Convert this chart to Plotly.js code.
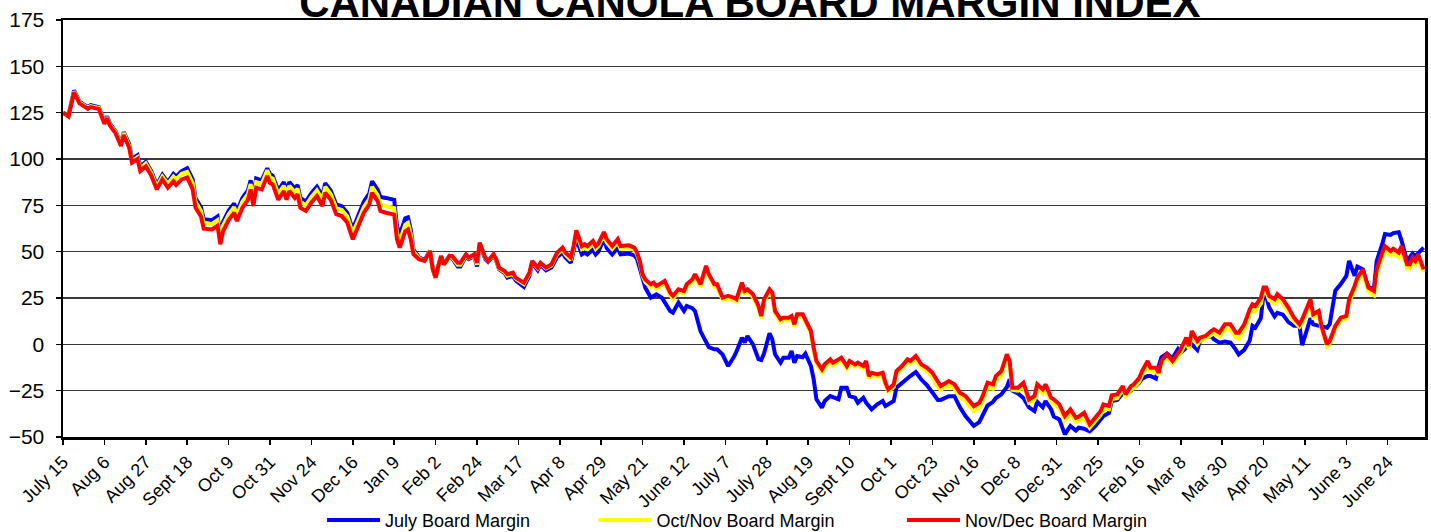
<!DOCTYPE html>
<html>
<head>
<meta charset="utf-8">
<script src="https://cdn.plot.ly/plotly-3.0.1.min.js"></script>
<style>
  html, body { margin: 0; padding: 0; background: #ffffff; }
  #chart { width: 1431px; height: 532px; }
</style>
</head>
<body>
<div id="chart"></div>
<script>
// Trading-session index (0 = July 15), one label every 15 sessions
const sessions = [
  0,2,4,6,9,10,13,15,16,17,
  19,21,22,24,25,27,28,30,32,34,
  36,38,40,41,43,45,47,48,50,51,
  54,56,57,58,60,62,63,65,67,68,
  69,70,72,74,75,76,78,80,81,82,
  84,85,86,88,90,92,94,95,97,99,
  101,103,104,105,107,109,111,112,114,115,
  117,119,120,121,122,124,125,126,127,129,
  131,132,133,134,135,136,137,138,140,141,
  143,144,146,147,149,150,151,153,154,156,
  157,158,160,161,163,164,166,167,169,170,
  172,173,175,177,179,181,182,184,185,186,
  188,189,190,192,193,194,196,197,199,201,
  202,205,207,208,209,210,211,213,214,215,
  217,218,220,221,223,225,226,228,229,231,
  233,234,236,237,239,241,243,244,246,247,
  248,250,252,253,254,256,257,258,260,261,
  263,264,265,266,268,269,271,272,273,275,
  276,278,279,281,282,284,285,287,288,290,
  291,292,293,295,297,298,299,301,302,304,
  306,307,309,311,313,315,317,318,321,323,
  325,327,330,332,333,335,337,338,340,341,
  342,343,344,346,348,350,352,353,355,356,
  358,359,361,363,365,367,368,370,372,374,
  376,377,379,380,382,384,385,387,388,390,
  391,393,394,396,397,398,400,402,404,405,
  407,408,409,411,412,414,416,417,419,421,
  423,425,426,428,430,431,432,434,435,436,
  437,439,440,442,444,446,448,449,452,453,
  455,456,458,459,461,463,465,466,468,469,
  471,472,473,475,476,478,479,481,482,484,
  485,487,488,489,490,491,493
];

const julyMargin = [
  125,123.5,137,131,128,129,128,120,123,119,
  115,108.5,114.5,108,100,102,96,98.5,93.5,86,
  91.5,87.5,92,90.5,93.5,95,89,79,74,67.5,
  67,69,59,66,72,76,71.5,79,83,88.5,
  80,89.5,88.5,95,92,91,83,87.5,83,87.5,
  84,86,79,77,81.5,85,80,87,83,75.5,
  74.5,71,66.5,62,69.5,77,81.5,88,83.5,79.5,
  79,78,78,64,59,68,68.5,62,51,47,
  45.5,48,50.5,40.5,36,42.3,47.6,43.2,47.6,46.5,
  42,42,47.5,46,47.5,42,54,46,44.5,48,
  45,40.5,38.5,36,37,34.5,32,31,37,44,
  40,43,40,41.5,47,49.5,47,44,50.5,57,
  48.5,49.5,48.5,51,48.5,50,57,52,48.5,52,
  48.5,49,48,46,41,36,30.6,25.2,26,27,
  25.2,22.5,18,17.1,22.5,18,20.7,19.5,18,7,
  1.8,-1.5,-2.7,-2.7,-5.5,-11.7,-7,-4,3.6,1,
  4.5,0,-8,-8.5,-5,6,2.7,-5.4,-9.9,-7.2,
  -7.2,-3.6,-9.9,-6.3,-7,-5,-11.7,-18.9,-29.7,-34.2,
  -30.6,-27.9,-28.5,-29.7,-23.4,-23.4,-27.9,-28.8,-31.5,-28.8,
  -31.5,-33.3,-35.1,-32.4,-30.6,-33.3,-32.4,-30.6,-23.4,-20.7,
  -18,-17.1,-15,-19,-22,-26,-30,-30,-28,-28,
  -34,-38.7,-44,-42,-39,-33,-31,-29,-27,-25,
  -23,-19,-25,-26.5,-29,-34,-36,-31,-34,-30.6,
  -35,-39,-40.5,-48.6,-44,-46.5,-45,-45.5,-47,-44.1,
  -41,-38.7,-37,-30.6,-30,-26.5,-26.5,-25,-23.5,-20.7,
  -18.5,-17.1,-17.1,-18.5,-12,-7,-5,-7.5,-2.5,-4.5,
  -1.8,-1,0,-3,2,3.6,4.5,2.7,0.9,1.5,
  1,-3,-5.5,-3,2,10,9,14,27,26,
  20,15,17,16,12,10,10,-0.5,14,10.8,
  10,9.5,9,11,29,32.5,36.9,45,37,42,
  40.5,35,31,29.7,45,54,59.5,59,60,60.5,
  56,45,47,49,47.6,49,52.2
];

const octNovMargin = [
  125,123,136.5,130.5,127.5,128.5,127.5,119.5,122.5,118.5,
  114.5,108,114,107,99,101,95,97.5,92.5,85,
  90.5,86.5,90.5,89,92,93,87,77,72,65.5,
  65,67,57,64,70,74,69.5,77,81,86.5,
  78,87.5,86.5,94,90,89.5,81,85.5,81,85.5,
  82,84,77,75,79.5,83,78,85,81,73.5,
  72.5,69,64.5,60,67,74,78.5,85,80.5,75.5,
  74.5,73.5,73.5,60,55.5,64.5,65.5,59.5,50,46.5,
  45,47.8,50.3,40.5,36,42.3,47.6,43.2,47.6,47,
  43,43,48,46.5,48,43,54.5,46.5,45,48.3,
  45.5,41,39,37,38,35.5,33.5,32.5,38,44.5,
  41,43.5,41,42.5,48.5,51,48.5,45.5,52,60,
  51.5,52.5,51.5,54.5,51.5,53,59,55,51.5,55,
  51.5,52,51,48.5,44,37,33.5,31,32,30,
  32,33,26.5,24.5,28.5,27.5,31,33.5,36.5,31,
  41,36.5,31,31,24,24.5,24,23,32,27.5,
  28.5,25.5,19.5,14,23,28.5,26.5,16.5,12,13,
  13,14,9.5,15,15,12,6,-3,-10.5,-15,
  -12.5,-9.5,-11.5,-9.5,-8.5,-13,-10.5,-12,-11.5,-13,
  -10.5,-18.5,-17,-17.5,-17,-22,-25.5,-23,-16,-13,
  -9.5,-10.5,-8,-12.5,-14.5,-17.5,-23,-24.5,-22,-24,
  -28.5,-30.5,-36,-34,-31.5,-23.5,-24,-19.5,-17,-11.5,
  -8,-10.5,-24.5,-25,-23,-31.5,-30,-24,-26.5,-24,
  -31,-32,-34.5,-41,-37.5,-42,-41.5,-39.5,-45,-41.5,
  -38,-34.5,-35,-29.5,-29,-24.5,-28,-24.5,-23.5,-20,
  -16.5,-12,-14.5,-15,-16.5,-10,-7,-10.5,-6,-4.5,
  1.5,-2.5,5,0,2,3,5,6,4,8,
  8,3.5,3,8,16,19,18,22,28.5,28.5,
  24,22,24.5,22,17.5,12.5,9.5,11.5,22,14.5,
  16,8.5,-1,0.5,8.5,13,14,22.5,29.5,34,
  38.5,33,28.5,26.5,38,47,50.5,48,49,47,
  50.5,41,41,44.5,43,46,39
];

const novDecMargin = [
  125,123,136,130,127,128,127,119,122,118,
  114,107,113,106,98,100,93.5,96,91,83.6,
  89,84.5,88,86,89,90,83.6,73.8,69,62.4,
  62,64,54,61,67,71,66.5,73.7,78,83.6,
  74.6,84.5,83.6,90.8,87,86.3,78,82.7,78,82.7,
  79,81,73.7,72,76.5,80,74.6,81.8,78,70.2,
  69.2,65.7,61.1,56.7,63.9,71,75.5,81.8,77.3,72,
  71,70,70,56.7,52.2,61,62,56.7,48.6,45.9,
  45,47.6,50.3,40.5,36,42.3,47.6,43.2,47.6,47.6,
  44,44,48.6,46.8,48.6,44,54.9,46.8,45,48.6,
  45.9,41.4,39.6,37.8,38.7,36,34.2,33.3,38.7,45,
  41.4,44,41.4,43.2,49.5,52.2,49.5,46.8,53,61.5,
  53,54,53,55.8,53,54.5,60.6,56.7,53,56.7,
  53,53.4,52.2,49.5,45,37.8,35,32.4,33.3,31.5,
  33.3,34.2,27.9,26.1,29.7,28.8,32.4,35,37.8,32.4,
  42.3,37.8,32.4,32.4,25.2,26.1,25.2,24.3,33.3,28.8,
  29.7,27,20.7,15.3,24.3,29.7,27.9,18,13.5,14.4,
  14.4,15.3,10.8,16.2,16.2,13.5,7.2,-1.8,-9,-13.5,
  -10.8,-8.1,-9.9,-8.1,-7.2,-11.7,-9,-10.8,-9.9,-11.7,
  -9,-17.1,-15.3,-16.2,-15.3,-20.7,-24.3,-21.6,-14.4,-11.7,
  -8.1,-9,-6.3,-10.8,-12.6,-15.3,-20.7,-22.5,-19.8,-21.6,
  -26.1,-27.9,-33.3,-31.5,-28.8,-20.7,-21.6,-17.1,-14.4,-9,
  -5.4,-9,-23.4,-23.4,-20.7,-29.7,-27.9,-21.6,-24.3,-21.6,
  -28.8,-29.7,-32.4,-38.7,-35.1,-39.6,-39,-36.9,-43.2,-39.6,
  -36,-32.4,-33.3,-27.5,-27,-22.5,-27,-22.5,-21.6,-18,
  -14.4,-9,-12.6,-12.6,-15.3,-9,-5.4,-9,-4.5,-2.7,
  3.6,-0.9,7.2,1.8,3.6,4.5,7.2,8.1,6.3,10.8,
  10.8,6.3,6.3,10.8,18.9,21.6,20.7,25,30.6,30.6,
  26.1,24.3,27,24.3,19.8,14.4,10.8,13.5,24.3,16.2,
  18,9.9,0,1.8,9.9,14.4,15.3,24.3,31.5,36,
  40.5,35,30.6,28.8,40.5,49.5,53,50.3,51.6,49.5,
  53,43.2,43.2,46.8,45,48.6,40.5
];

const tickLabels = [
  "July 15","Aug 6","Aug 27","Sept 18","Oct 9","Oct 31","Nov 24","Dec 16",
  "Jan 9","Feb 2","Feb 24","Mar 17","Apr 8","Apr 29","May 21","June 12",
  "July 7","July 28","Aug 19","Sept 10","Oct 1","Oct 23","Nov 16","Dec 8",
  "Dec 31","Jan 25","Feb 16","Mar 8","Mar 30","Apr 20","May 11","June 3","June 24"
];
const sessionsPerLabel = 15;
const seriesNames = ["July Board Margin", "Oct/Nov Board Margin", "Nov/Dec Board Margin"];
const yTicks = [-50, -25, 0, 25, 50, 75, 100, 125, 150, 175];

const FONT = "Liberation Sans, Arial, sans-serif";
const tickVals = tickLabels.map((_, i) => i * sessionsPerLabel);

const traces = [
  { x: sessions, y: julyMargin, name: seriesNames[0], type: "scatter", mode: "lines",
    line: { color: "#0000FF", width: 4 }, legend: "legend" },
  { x: sessions, y: octNovMargin, name: seriesNames[1], type: "scatter", mode: "lines",
    line: { color: "#FFFF00", width: 4 }, legend: "legend2" },
  { x: sessions, y: novDecMargin, name: seriesNames[2], type: "scatter", mode: "lines",
    line: { color: "#FF0000", width: 4 }, legend: "legend3" }
];

const legendBase = { orientation: "h", xanchor: "left", yanchor: "middle", y: -0.2,
  itemwidth: 53,
  font: { family: FONT, size: 18, color: "#000" }, bgcolor: "rgba(0,0,0,0)" };

const layout = {
  width: 1431, height: 532,
  margin: { l: 63, r: 6, t: 20, b: 95, autoexpand: false },
  paper_bgcolor: "#ffffff", plot_bgcolor: "#ffffff",
  title: { text: "<b>CANADIAN CANOLA BOARD MARGIN INDEX</b>",
    font: { family: FONT, size: 42, color: "#000" },
    xref: "container", yref: "container", x: 0.524, xanchor: "center", y: 0.9957, yanchor: "middle" },
  xaxis: {
    range: [0, 493.5], tickmode: "array", tickvals: tickVals, ticktext: tickLabels,
    tickangle: -45, tickfont: { family: FONT, size: 18, color: "#000" },
    ticks: "outside", ticklen: 5, tickwidth: 1.5, tickcolor: "#000",
    showgrid: false, zeroline: false, automargin: false,
    showline: true, linecolor: "#000", linewidth: 2.5, mirror: true
  },
  yaxis: {
    range: [-50, 175], tickmode: "array", tickvals: yTicks,
    tickfont: { family: FONT, size: 21, color: "#000" },
    ticks: "outside", ticklen: 5, tickwidth: 1.5, tickcolor: "#000",
    ticklabelstandoff: 7, automargin: false,
    showgrid: true, gridcolor: "#3a3a3a", gridwidth: 1.5, zeroline: false,
    showline: true, linecolor: "#000", linewidth: 2.5, mirror: true
  },
  showlegend: true,
  legend: Object.assign({}, legendBase, { x: 0.1902 }),
  legend2: Object.assign({}, legendBase, { x: 0.3895 }),
  legend3: Object.assign({}, legendBase, { x: 0.616 })
};

Plotly.newPlot("chart", traces, layout, { staticPlot: true, displayModeBar: false });
</script>
</body>
</html>
